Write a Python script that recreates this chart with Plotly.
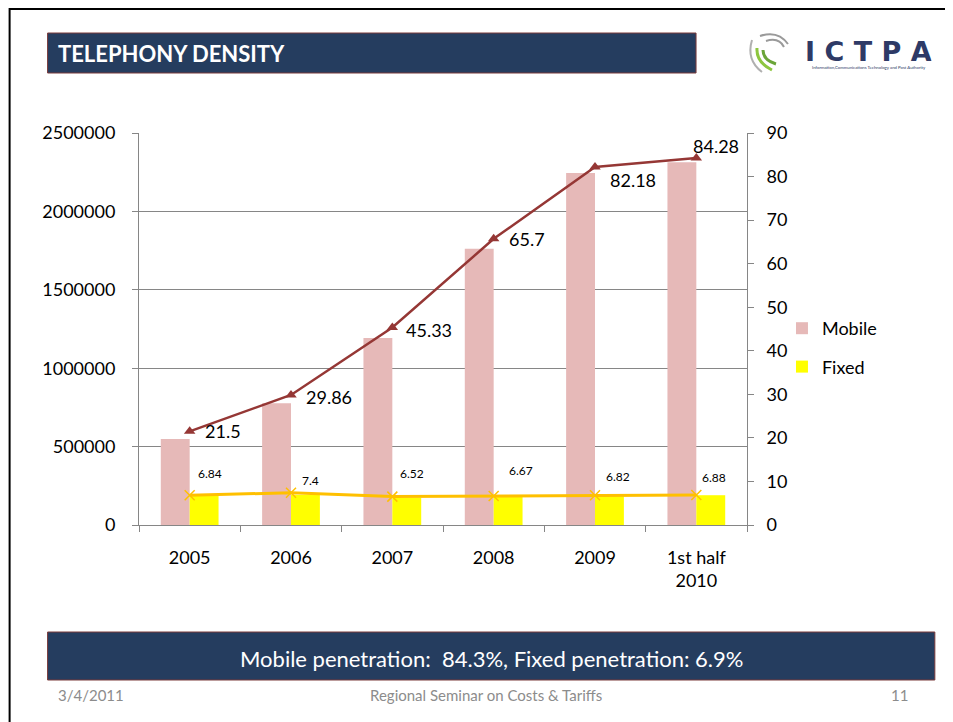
import plotly.graph_objects as go

# ---------------- data ----------------
categories = ["2005", "2006", "2007", "2008", "2009", "1st half<br>2010"]
mobile_subscribers = [549000, 777000, 1192000, 1762000, 2245000, 2313000]
fixed_subscribers = [185000, 192000, 174000, 181000, 183000, 190000]
mobile_penetration = [21.5, 29.86, 45.33, 65.7, 82.18, 84.28]
fixed_penetration = [6.84, 7.4, 6.52, 6.67, 6.82, 6.88]
left_ticks = [0, 500000, 1000000, 1500000, 2000000, 2500000]
right_ticks = [0, 10, 20, 30, 40, 50, 60, 70, 80, 90]

title_text = "TELEPHONY DENSITY"
summary_text = "Mobile penetration:  84.3%, Fixed penetration: 6.9%"
footer_date = "3/4/2011"
footer_event = "Regional Seminar on Costs &amp; Tariffs"
footer_page = "11"
logo_name = "I C T P A"
logo_subtitle = "Information,Communications Technology and Post Authority"

# ---------------- style / layout ----------------
OFF = 8  # page body margin of the html page
W, H = 953, 722
PLOT_LEFT, PLOT_RIGHT, PLOT_TOP, PLOT_BOTTOM = 138.5, 747, 133, 525  # page pixels
L = PLOT_LEFT - OFF
T = PLOT_TOP - OFF
R = W - (PLOT_RIGHT - OFF)
B = H - (PLOT_BOTTOM - OFF)
PW = W - L - R
PH = H - T - B

FONT = "Lato, 'Open Sans', sans-serif"
NAVY = "#253D5F"
PINK = "#E6B9B8"
YELLOW = "#FFFF00"
DARKRED = "#953735"
ORANGE = "#FFC000"
GRID = "#868686"

# label offsets (pixels) for the data labels
mobile_label_shift = [(13, 0), (13, -2), (12, -2), (13, 0), (13, -13), (-5, 12)]
fixed_label_shift = [(20, 22), (19, 12), (20, 23), (27, 25), (23, 19), (18, 18)]


def fx(px):
    """page pixel x -> paper coordinate"""
    return (px - OFF - L) / PW


def fy(py):
    """page pixel y -> paper coordinate"""
    return (H - B - (py - OFF)) / PH


fig = go.Figure()

fig.add_trace(go.Bar(
    x=categories, y=mobile_subscribers, name="Mobile",
    marker=dict(color=PINK, line=dict(width=0)), legendgroup="m",
))
fig.add_trace(go.Bar(
    x=categories, y=fixed_subscribers, name="Fixed",
    marker=dict(color=YELLOW, line=dict(width=0)), legendgroup="f",
))
fig.add_trace(go.Scatter(
    x=categories, y=mobile_penetration, yaxis="y2", mode="lines+markers",
    line=dict(color=DARKRED, width=2.5),
    marker=dict(symbol="triangle-up", size=10, color=DARKRED),
    showlegend=False,
))
fig.add_trace(go.Scatter(
    x=categories, y=fixed_penetration, yaxis="y2", mode="lines+markers",
    line=dict(color=ORANGE, width=3),
    marker=dict(symbol="x-thin", size=10, line=dict(color=ORANGE, width=1.5)),
    showlegend=False,
))

annotations = []
for i, (v, (dx, dy)) in enumerate(zip(mobile_penetration, mobile_label_shift)):
    annotations.append(dict(
        x=i, y=v, xref="x", yref="y2", text=f"{v:g}", showarrow=False,
        xanchor="left", yanchor="middle", xshift=dx, yshift=dy,
        font=dict(size=18, color="#000000", family=FONT),
    ))
for i, (v, (dx, dy)) in enumerate(zip(fixed_penetration, fixed_label_shift)):
    annotations.append(dict(
        x=i, y=v, xref="x", yref="y2", text=f"{v:g}", showarrow=False,
        xanchor="center", yanchor="middle", xshift=dx, yshift=dy,
        font=dict(size=12, color="#000000", family=FONT),
    ))

# Title, summary and footer texts
annotations += [
    dict(x=fx(55), y=fy(53), xref="paper", yref="paper", text=f"<b>{title_text}</b>",
         showarrow=False, xanchor="left", yanchor="middle",
         font=dict(size=22, color="#FFFFFF", family=FONT)),
    dict(x=fx(491), y=fy(658), xref="paper", yref="paper", text=summary_text,
         showarrow=False, xanchor="center", yanchor="middle",
         font=dict(size=22, color="#FFFFFF", family=FONT)),
    dict(x=fx(55), y=fy(695), xref="paper", yref="paper", text=footer_date,
         showarrow=False, xanchor="left", yanchor="middle",
         font=dict(size=15, color="#8C8C8C", family=FONT)),
    dict(x=fx(486), y=fy(695), xref="paper", yref="paper", text=footer_event,
         showarrow=False, xanchor="center", yanchor="middle",
         font=dict(size=15, color="#8C8C8C", family=FONT)),
    dict(x=fx(910), y=fy(695), xref="paper", yref="paper", text=footer_page,
         showarrow=False, xanchor="right", yanchor="middle",
         font=dict(size=15, color="#8C8C8C", family=FONT)),
]

# Logo texts
annotations.append(dict(
    x=fx(803), y=fy(51), xref="paper", yref="paper", text=f"<b>{logo_name}</b>",
    showarrow=False, xanchor="left", yanchor="middle", height=26, valign="middle",
    font=dict(size=27, color="#2E3A66", family="'DejaVu Sans', sans-serif"),
))
annotations.append(dict(
    x=fx(869), y=fy(67), xref="paper", yref="paper", text=logo_subtitle,
    showarrow=False, xanchor="center", yanchor="middle",
    font=dict(size=4.3, color="#2E3A66", family=FONT),
))


def path(points):
    (x0, y0), rest = points[0], points[1:]
    s = f"M{fx(x0)},{fy(y0)}"
    for (cx, cy), (ex, ey) in zip(rest[0::2], rest[1::2]):
        s += f" Q{fx(cx)},{fy(cy)} {fx(ex)},{fy(ey)}"
    return s


shapes = [
    # slide frame
    dict(type="rect", xref="paper", yref="paper", x0=fx(9), y0=fy(9), x1=fx(990), y1=fy(760),
         line=dict(color="#000000", width=2), fillcolor="rgba(0,0,0,0)", layer="below"),
    # title bar
    dict(type="rect", xref="paper", yref="paper", x0=fx(47), y0=fy(33), x1=fx(696), y1=fy(73),
         line=dict(color="#7A3A3A", width=1), fillcolor=NAVY, layer="below"),
    # summary bar
    dict(type="rect", xref="paper", yref="paper", x0=fx(47), y0=fy(632), x1=fx(935), y1=fy(680),
         line=dict(color="#7A3A3A", width=1), fillcolor=NAVY, layer="below"),
    # logo swooshes (gray arcs)
    dict(type="path", xref="paper", yref="paper",
         path=path([(760, 36), (778, 30), (788, 44)]),
         line=dict(color="#9A9A9A", width=2)),
    dict(type="path", xref="paper", yref="paper",
         path=path([(766, 41), (779, 37), (784, 47)]),
         line=dict(color="#9A9A9A", width=2)),
    dict(type="path", xref="paper", yref="paper",
         path=path([(752, 40), (746, 60), (762, 72)]),
         line=dict(color="#B0B0B0", width=2)),
    # logo green swooshes
    dict(type="path", xref="paper", yref="paper",
         path=path([(757, 48), (756, 62), (772, 70)]),
         line=dict(color="#8DC63F", width=3)),
    dict(type="path", xref="paper", yref="paper",
         path=path([(763, 50), (763, 60), (776, 64)]),
         line=dict(color="#6BA539", width=3)),
]

fig.update_layout(
    width=W, height=H, autosize=False,
    margin=dict(l=L, r=R, t=T, b=B, pad=0),
    paper_bgcolor="#FFFFFF", plot_bgcolor="#FFFFFF",
    font=dict(family=FONT, size=18, color="#000000"),
    barmode="group", bargap=0.43, bargroupgap=0,
    showlegend=True,
    legend=dict(
        x=fx(782), y=fy(310), xanchor="left", yanchor="top",
        font=dict(size=18, family=FONT, color="#000000"),
        bgcolor="rgba(0,0,0,0)", borderwidth=0, tracegroupgap=12,
        itemclick=False,
    ),
    xaxis=dict(
        type="category", range=[-0.5, 5.5], showline=True, linecolor=GRID, linewidth=1,
        ticks="outside", tickson="boundaries", ticklen=6, tickcolor=GRID,
        showgrid=False, tickfont=dict(size=18), ticklabelstandoff=16, tickangle=0,
    ),
    yaxis=dict(
        range=[0, 2500000], tickmode="array", tickvals=left_ticks,
        ticktext=[str(t) for t in left_ticks],
        showline=True, linecolor=GRID, linewidth=1, ticks="outside", ticklen=6,
        tickcolor=GRID, showgrid=True, gridcolor=GRID, gridwidth=1,
        zeroline=False, tickfont=dict(size=18), ticklabelstandoff=13,
    ),
    yaxis2=dict(
        range=[0, 90], tickmode="array", tickvals=right_ticks,
        overlaying="y", side="right", showline=True, linecolor=GRID, linewidth=1,
        ticks="outside", ticklen=6, tickcolor=GRID, showgrid=False, zeroline=False,
        tickfont=dict(size=18), ticklabelstandoff=9,
    ),
    annotations=annotations,
    shapes=shapes,
)

fig.write_html("out.html")
